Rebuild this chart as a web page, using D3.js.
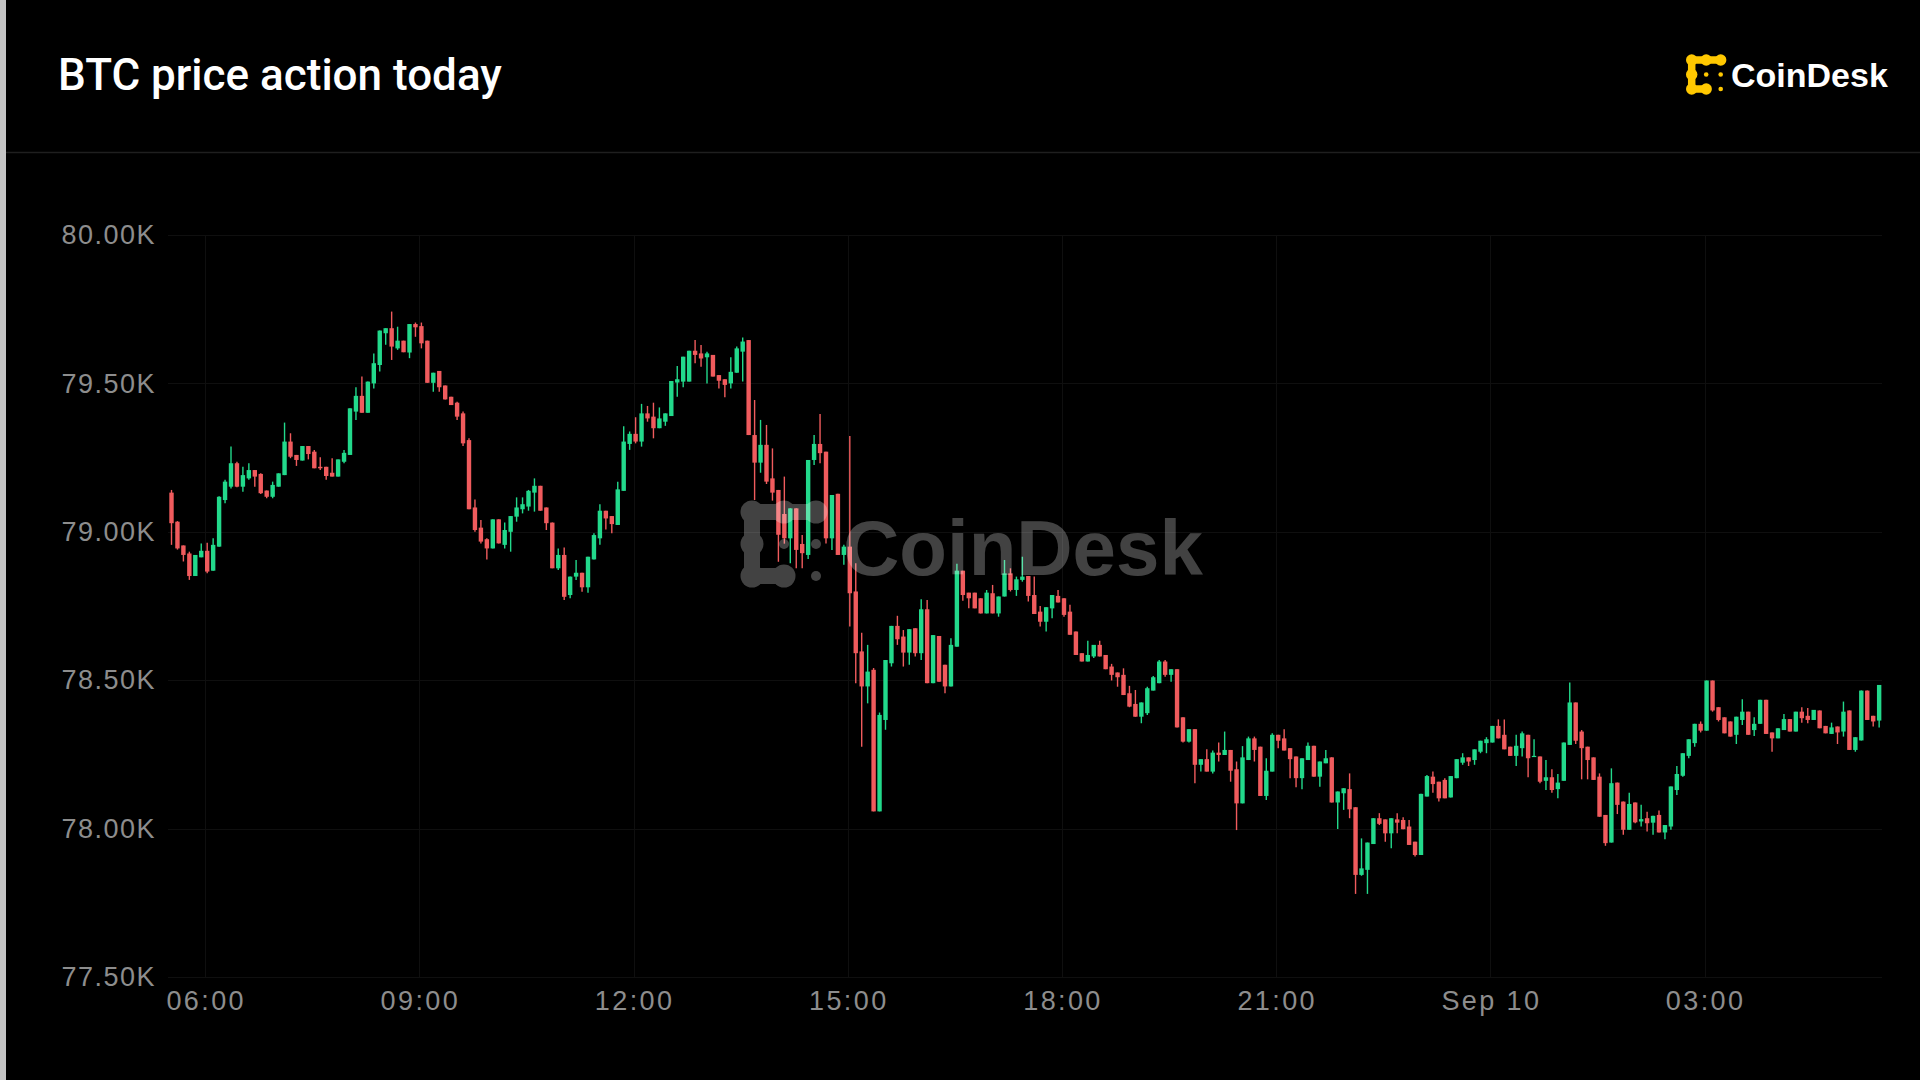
<!DOCTYPE html>
<html><head><meta charset="utf-8">
<script src="https://cdn.jsdelivr.net/npm/d3@7"></script>
<style>html,body{margin:0;padding:0;background:#000;overflow:hidden}</style>
</head><body>
<svg id="chart" width="1920" height="1080"></svg>
<script>
// ---- DATA (5-minute BTC candles, 05:30 Sep 9 -> 05:25 Sep 10) ----
const startTime = new Date(2024, 8, 9, 5, 30);
const intervalMinutes = 5;
const opens = [
79132,79034,78954,78927,78851,78914,78936,78869,78950,79107,79152,79231,
79152,79180,79208,79195,79139,79118,79152,79191,79304,79259,79240,79289,
79270,79219,79219,79199,79186,79236,79259,79405,79458,79401,79500,79562,
79669,79686,79618,79644,79604,79700,79693,79644,79502,79542,79493,79455,
79435,79399,79309,79082,79014,78975,78944,79042,78956,79000,79051,79076,
79085,79132,79155,79082,79031,78877,78922,78787,78849,78862,78813,78907,
78978,79071,79053,79023,79138,79296,79330,79304,79399,79388,79349,79371,
79390,79503,79506,79506,79610,79601,79588,79596,79528,79514,79500,79536,
79607,79646,79326,79233,79293,79180,79141,79060,78978,79079,78959,78922,
79242,79296,79270,78978,79128,78922,78950,78799,78597,78479,78535,78058,
78366,78557,78683,78647,78593,78675,78591,78739,78490,78649,78552,78479,
78613,78869,78795,78795,78776,78725,78793,78725,78782,78860,78804,78838,
78851,78787,78731,78697,78742,78784,78776,78731,78664,78591,78563,78580,
78619,78585,78546,78526,78518,78456,78420,78377,78389,78465,78490,78563,
78518,78537,78375,78293,78335,78215,78234,78192,78256,78248,78265,78200,
78085,78231,78304,78276,78110,78192,78316,78304,78271,78243,78170,78231,
78279,78175,78220,78240,78088,78119,78133,78072,77844,77861,77948,78035,
78031,77984,78031,78029,78007,77956,77911,78108,78175,78158,78164,78105,
78170,78222,78240,78231,78259,78288,78290,78346,78316,78276,78245,78271,
78316,78243,78243,78161,78173,78133,78161,78282,78425,78327,78276,78240,
78175,78046,77953,78155,78091,77996,78088,78024,78035,78020,78046,77987,
78007,78130,78178,78245,78288,78353,78330,78499,78409,78375,78361,78316,
78366,78394,78332,78353,78434,78324,78304,78332,78369,78327,78394,78380,
78366,78398,78346,78319,78344,78327,78398,78265,78297,78465,78380,78364];
const highs = [
79141,79036,78954,78933,78922,78961,78963,78978,79120,79175,79287,79236,
79219,79231,79208,79197,79139,79169,79197,79368,79332,79259,79289,79289,
79276,79251,79219,79248,79244,79276,79416,79487,79523,79506,79601,79678,
79686,79742,79691,79644,79700,79705,79705,79644,79536,79542,79493,79455,
79438,79405,79315,79109,79040,78978,79042,79042,79031,79053,79116,79116,
79141,79180,79155,79082,79031,78944,78947,78849,78905,78862,78916,78995,
79093,79071,79053,79169,79356,79338,79386,79431,79424,79435,79419,79399,
79508,79559,79590,79610,79646,79629,79607,79596,79528,79514,79588,79624,
79655,79646,79444,79377,79360,79281,79141,79186,79079,79079,78989,79242,
79326,79397,79270,79124,79128,78956,79323,78894,78660,78619,78541,78391,
78568,78683,78717,78669,78672,78675,78773,78770,78652,78649,78552,78641,
78892,78869,78795,78795,78776,78804,78821,78782,78905,78877,78849,78916,
78851,78849,78750,78746,78787,78804,78776,78754,78664,78591,78633,78619,
78633,78585,78555,78526,78540,78481,78467,78425,78478,78514,78568,78568,
78537,78537,78375,78335,78335,78234,78267,78263,78290,78327,78265,78226,
78278,78310,78310,78276,78237,78321,78316,78335,78271,78243,78237,78290,
78279,78226,78265,78240,78125,78136,78186,78072,77967,77953,78035,78052,
78031,78035,78052,78038,78029,77956,78117,78181,78192,78158,78170,78177,
78234,78254,78240,78267,78296,78308,78346,78368,78368,78276,78316,78327,
78316,78301,78243,78231,78200,78184,78290,78492,78425,78332,78276,78240,
78186,78046,78203,78155,78091,78121,78088,78080,78057,78043,78061,78012,
78142,78211,78254,78301,78353,78361,78499,78499,78409,78375,78361,78377,
78436,78394,78375,78434,78434,78324,78338,78386,78369,78394,78409,78406,
78400,78398,78346,78357,78344,78428,78398,78308,78465,78465,78380,78484];
const lows = [
78956,78940,78900,78838,78851,78914,78860,78869,78950,79096,79146,79150,
79135,79175,79152,79127,79113,79113,79152,79191,79248,79222,79240,79244,
79214,79208,79175,79186,79186,79231,79259,79377,79401,79401,79483,79540,
79630,79579,79613,79605,79585,79657,79618,79502,79472,79472,79446,79427,
79377,79289,79076,79000,78961,78907,78944,78961,78944,78933,79034,79062,
79071,79068,79071,79006,78877,78871,78770,78776,78838,78798,78795,78907,
78956,79008,78995,79023,79138,79276,79298,79287,79371,79315,79349,79357,
79390,79455,79487,79506,79568,79556,79500,79523,79483,79453,79483,79536,
79506,79326,79107,79199,79161,79105,78899,78960,78894,78877,78877,78908,
79225,79231,78961,78939,78922,78889,78681,78490,78276,78422,78058,78058,
78333,78546,78619,78546,78552,78580,78568,78490,78490,78495,78456,78479,
78613,78768,78742,78742,78725,78725,78725,78714,78782,78799,78784,78832,
78765,78723,78681,78664,78709,78762,78714,78653,78585,78563,78563,78575,
78580,78537,78499,78478,78450,78409,78377,78355,78383,78465,78490,78512,
78495,78341,78290,78290,78153,78192,78192,78186,78226,78248,78158,77995,
78085,78231,78226,78110,78096,78192,78271,78263,78170,78139,78133,78231,
78175,78141,78220,78088,77999,78063,78035,77780,77841,77780,77948,78012,
77956,77934,77984,77998,77945,77906,77911,78108,78121,78091,78102,78105,
78170,78215,78211,78215,78254,78254,78290,78304,78267,78245,78211,78243,
78173,78243,78153,78130,78121,78102,78161,78282,78285,78166,78166,78164,
78040,77942,77953,78049,77979,77996,78018,78007,77990,77979,77987,77964,
77996,78113,78175,78237,78276,78324,78330,78394,78361,78321,78310,78285,
78349,78316,78312,78353,78319,78259,78304,78332,78327,78327,78357,78355,
78366,78338,78321,78319,78285,78310,78265,78259,78297,78366,78344,78341];
const closes = [
79029,78944,78922,78851,78922,78936,78866,78956,79118,79169,79231,79152,
79191,79208,79186,79130,79118,79158,79197,79304,79253,79242,79289,79262,
79214,79214,79188,79186,79244,79266,79416,79458,79401,79506,79568,79678,
79686,79624,79644,79605,79700,79689,79635,79502,79536,79487,79446,79427,
79388,79298,79076,79006,78967,78944,79042,78961,79006,79053,79082,79093,
79138,79155,79071,79029,78877,78922,78781,78849,78862,78813,78916,78989,
79071,79045,79026,79143,79304,79330,79304,79399,79382,79349,79382,79399,
79508,79514,79590,79610,79596,79584,79601,79523,79509,79495,79539,79618,
79641,79326,79233,79293,79169,79132,78990,78978,79079,78939,78928,79242,
79296,79265,78978,79124,78922,78950,78793,78591,78479,78529,78058,78383,
78568,78683,78638,78593,78672,78591,78739,78490,78652,78495,78479,78619,
78869,78787,78776,78742,78725,78795,78725,78782,78860,78804,78840,78849,
78784,78723,78697,78746,78787,78762,78720,78653,78585,78563,78585,78619,
78580,78537,78518,78510,78450,78411,78377,78425,78473,78510,78563,78518,
78537,78341,78293,78335,78215,78234,78192,78256,78248,78265,78195,78085,
78240,78304,78265,78110,78195,78316,78296,78263,78234,78170,78237,78279,
78175,78226,78237,78088,78125,78136,78065,77844,77866,77953,78035,78016,
77984,78035,78020,77998,77945,77911,78117,78177,78150,78102,78102,78177,
78234,78240,78226,78267,78296,78301,78346,78304,78267,78245,78279,78321,
78237,78245,78158,78173,78130,78155,78290,78425,78296,78271,78231,78164,
78040,77951,78153,78080,77996,78083,78021,78032,78018,78043,77987,78012,
78142,78184,78254,78301,78353,78330,78499,78398,78366,78321,78310,78377,
78394,78316,78353,78434,78319,78304,78338,78369,78327,78394,78372,78366,
78400,78338,78321,78341,78324,78394,78265,78308,78465,78366,78361,78484];
const yTickValues = [77500, 78000, 78500, 79000, 79500, 80000];
const titleText = "BTC price action today";
const brandText = "CoinDesk";

// ---- LAYOUT ----
const W = 1920, H = 1080;
const plotLeft = 168, plotRight = 1882, plotTop = 235, plotBottom = 977;
const up = "#22d98b", down = "#f05b5d";
const svg = d3.select("#chart");
svg.append("rect").attr("width", W).attr("height", H).attr("fill", "#000");
svg.append("rect").attr("x", 0).attr("y", 0).attr("width", 6).attr("height", H).attr("fill", "#c4c4c4");

const data = opens.map((o, i) => ({
  t: d3.timeMinute.offset(startTime, i * intervalMinutes),
  o, h: highs[i], l: lows[i], c: closes[i]
}));
const endTime = d3.timeMinute.offset(startTime, data.length * intervalMinutes);

const x = d3.scaleTime().domain([startTime, endTime]).range([171.5, 171.5 + data.length * 5.95]);
const y = d3.scaleLinear().domain([77500, 80000]).range([plotBottom, plotTop]);

// header
svg.append("text").attr("x", 58).attr("y", 90)
  .attr("font-family", "Roboto, 'Liberation Sans', sans-serif").attr("font-weight", 500)
  .attr("font-size", 44).attr("fill", "#fff").text(titleText);
svg.append("line").attr("x1", 6).attr("x2", W).attr("y1", 152.5).attr("y2", 152.5)
  .attr("stroke", "#1f1f1f").attr("stroke-width", 1.5);

function drawIcon(g, ox, oy, s, R, r, w, fill) {
  const big = [[0,0],[1,0],[2,0],[0,1],[0,2],[1,2]];
  const small = [[1,1],[2,1],[2,2]];
  const links = [[[0,0],[2,0]], [[0,0],[0,2]], [[0,2],[1,2]]];
  links.forEach(([a, b]) => g.append("line")
    .attr("x1", ox + a[0]*s).attr("y1", oy + a[1]*s).attr("x2", ox + b[0]*s).attr("y2", oy + b[1]*s)
    .attr("stroke", fill).attr("stroke-width", w));
  big.forEach(p => g.append("circle").attr("cx", ox + p[0]*s).attr("cy", oy + p[1]*s).attr("r", R).attr("fill", fill));
  small.forEach(p => g.append("circle").attr("cx", ox + p[0]*s).attr("cy", oy + p[1]*s).attr("r", r).attr("fill", fill));
}
const logo = svg.append("g");
drawIcon(logo, 1691.7, 60, 14.5, 5.7, 2.3, 7.5, "#ffc800");
logo.append("text").attr("x", 1731).attr("y", 87)
  .attr("font-family", "'Liberation Sans', Arial, sans-serif").attr("font-weight", 700)
  .attr("font-size", 34).attr("fill", "#fff").text(brandText);

// grid
const grid = svg.append("g");
const xTicks = x.ticks(d3.timeHour.every(3));
grid.selectAll("line.h").data(yTickValues).join("line")
  .attr("x1", plotLeft).attr("x2", plotRight)
  .attr("y1", d => Math.round(y(d)) + 0.5).attr("y2", d => Math.round(y(d)) + 0.5)
  .attr("stroke", "#0f0f0f").attr("stroke-width", 1);
grid.selectAll("line.v").data(xTicks).join("line")
  .attr("x1", d => Math.round(x(d)) - 2 + 0.5).attr("x2", d => Math.round(x(d)) - 2 + 0.5)
  .attr("y1", plotTop).attr("y2", plotBottom)
  .attr("stroke", "#0f0f0f").attr("stroke-width", 1);

// axes
const yAxis = svg.append("g").attr("transform", `translate(156,0)`)
  .call(d3.axisLeft(y).tickValues(yTickValues).tickSize(0).tickPadding(0)
    .tickFormat(d => (d / 1000).toFixed(2) + "K"));
yAxis.select(".domain").remove();
yAxis.selectAll("text").attr("font-family", "'Liberation Sans', Arial, sans-serif")
  .attr("font-size", 27).attr("fill", "#8d8d8d").attr("letter-spacing", "1.5px");

const xAxis = svg.append("g").attr("transform", `translate(0,${plotBottom})`)
  .call(d3.axisBottom(x).ticks(d3.timeHour.every(3)).tickSize(0).tickPadding(14)
    .tickFormat(d => d.getHours() === 0 ? d3.timeFormat("%b %d")(d) : d3.timeFormat("%H:%M")(d)));
xAxis.select(".domain").remove();
xAxis.selectAll("text").attr("font-family", "'Liberation Sans', Arial, sans-serif")
  .attr("font-size", 27).attr("fill", "#8d8d8d").attr("letter-spacing", "2.4px").attr("dx", "-1.5");

// candles
const bodyW = 4.4;
const candles = svg.append("g").selectAll("g").data(data).join("g");
candles.append("line")
  .attr("x1", d => x(d.t)).attr("x2", d => x(d.t))
  .attr("y1", d => y(d.h)).attr("y2", d => y(d.l))
  .attr("stroke", d => d.c >= d.o ? up : down).attr("stroke-width", 1.4);
candles.append("rect")
  .attr("x", d => x(d.t) - bodyW / 2).attr("width", bodyW)
  .attr("y", d => y(Math.max(d.o, d.c)))
  .attr("height", d => Math.max(1.2, Math.abs(y(d.o) - y(d.c))))
  .attr("fill", d => d.c >= d.o ? up : down);

// watermark
const wm = svg.append("g").attr("opacity", 0.26);
drawIcon(wm, 752, 512, 32, 11.5, 5, 16, "#fff");
wm.append("text").attr("x", 843).attr("y", 575)
  .attr("font-family", "'Liberation Sans', Arial, sans-serif").attr("font-weight", 700)
  .attr("font-size", 78).attr("fill", "#fff").text(brandText);
</script>
</body></html>
